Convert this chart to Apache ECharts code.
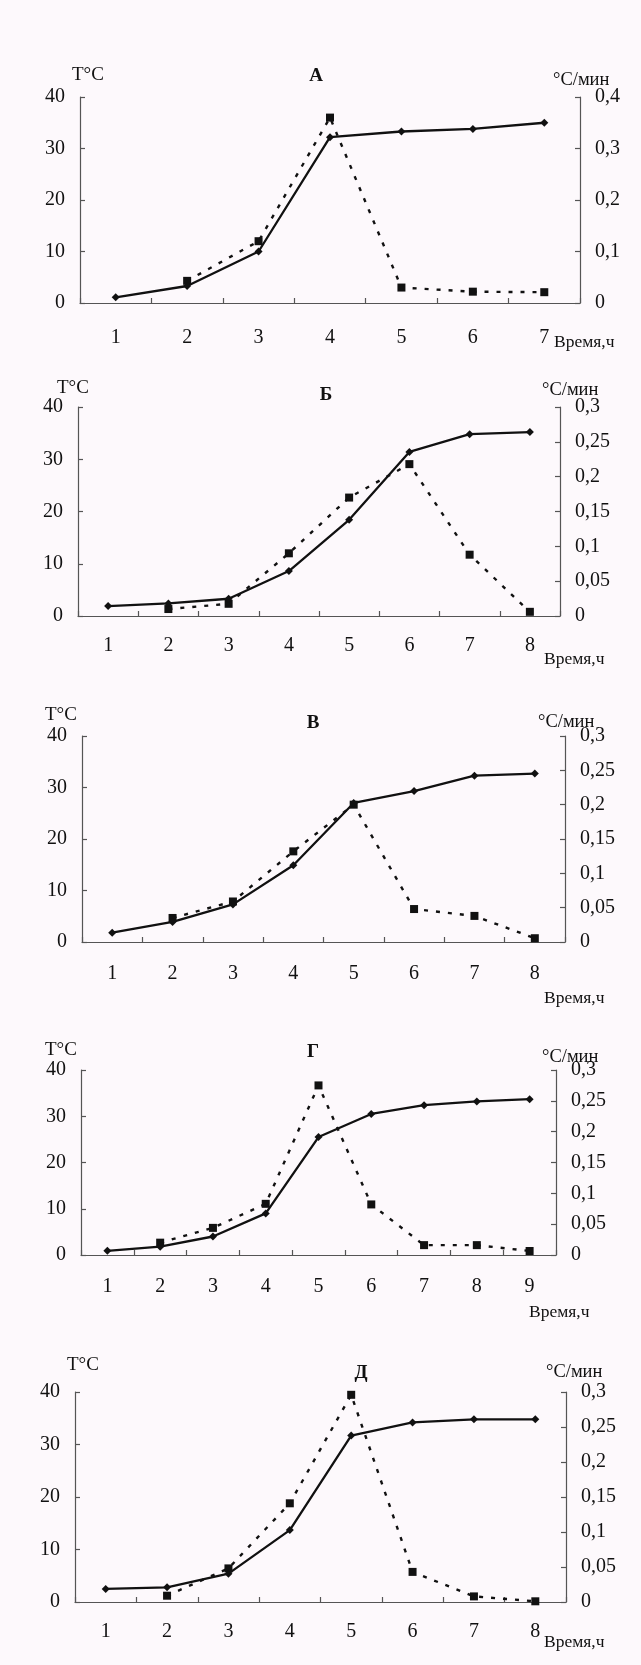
<!DOCTYPE html>
<html><head><meta charset="utf-8">
<script src="https://cdn.jsdelivr.net/npm/echarts@6/dist/echarts.min.js"></script>
<style>html,body{margin:0;padding:0;background:#fdf9fc;}#c{width:641px;height:1665px;}</style>
</head><body><div id="c"></div>
<script>
// ---- data ----
const hoursA = ['1','2','3','4','5','6','7'];
const tempA  = [1.1, 3.3, 10.0, 32.2, 33.3, 33.8, 35.0];
const rateA  = [null, 0.043, 0.12, 0.36, 0.03, 0.022, 0.021];
const notesA = [{x:4.6, y:35.4, t:'1'}, {x:4.99, y:8.4, t:'2'}];

const hoursB = ['1','2','3','4','5','6','7','8'];
const tempB  = [1.9, 2.4, 3.3, 8.6, 18.4, 31.4, 34.8, 35.2];
const rateB  = [null, 0.010, 0.0175, 0.09, 0.17, 0.218, 0.088, 0.006];
const notesB = [{x:1.64, y:4.3, t:'1'}, {x:6.9, y:16.6, t:'2'}];

const hoursV = ['1','2','3','4','5','6','7','8'];
const tempV  = [1.8, 3.9, 7.3, 14.9, 27.0, 29.3, 32.3, 32.7];
const rateV  = [null, 0.035, 0.059, 0.132, 0.2, 0.048, 0.038, 0.0055];
const notesV = [{x:1.24, y:7.0, t:'1'}, {x:5.66, y:17.9, t:'2'}];

const hoursG = ['1','2','3','4','5','6','7','8','9'];
const tempG  = [0.9, 1.8, 4.0, 9.0, 25.5, 30.5, 32.4, 33.2, 33.7];
const rateG  = [null, 0.02, 0.044, 0.083, 0.275, 0.082, 0.016, 0.016, 0.0065];
const notesG = [{x:1.23, y:5.7, t:'1'}, {x:4.71, y:35.4, t:'2'}];

const hoursD = ['1','2','3','4','5','6','7','8'];
const tempD  = [2.5, 2.8, 5.4, 13.7, 31.7, 34.2, 34.8, 34.8];
const rateD  = [null, 0.009, 0.048, 0.141, 0.296, 0.043, 0.008, 0.001];
const notesD = [{x:1.07, y:5.7, t:'1'}, {x:5.83, y:20, t:'2'}];

const titles = ['А','Б','В','Г','Д'];
const leftAxisName = 'T°C';
const rightAxisName = '°C/мин';
const timeName = 'Время,ч';

// ---- layout ----
const FONT = '"Liberation Serif","DejaVu Serif",serif';
const INK = '#111';
const AX = '#555';
const panels = [
  {hours:hoursA, temp:tempA, rate:rateA, notes:notesA, rMax:0.4, rStep:0.1,
   grid:{left:80, top:97, width:500, height:206}, xm:25,
   tT:[72,75], tTitle:[316,76], tR:[553,80], tTime:[554,342]},
  {hours:hoursB, temp:tempB, rate:rateB, notes:notesB, rMax:0.3, rStep:0.05,
   grid:{left:78, top:407, width:482, height:209}, xm:20,
   tT:[57,388], tTitle:[326,395], tR:[542,390], tTime:[544,659]},
  {hours:hoursV, temp:tempV, rate:rateV, notes:notesV, rMax:0.3, rStep:0.05,
   grid:{left:82, top:736, width:483, height:206}, xm:22,
   tT:[45,715], tTitle:[313,723], tR:[538,722], tTime:[544,998]},
  {hours:hoursG, temp:tempG, rate:rateG, notes:notesG, rMax:0.3, rStep:0.05,
   grid:{left:81, top:1070, width:475, height:185}, xm:22,
   tT:[45,1050], tTitle:[313,1052], tR:[542,1057], tTime:[529,1312]},
  {hours:hoursD, temp:tempD, rate:rateD, notes:notesD, rMax:0.3, rStep:0.05,
   grid:{left:75, top:1392, width:491, height:210}, xm:20,
   tT:[67,1365], tTitle:[361,1373], tR:[546,1372], tTime:[544,1642]}
];

const fmtR = v => String(+(+v).toFixed(2)).replace('.', ',');
const grids = [], xAxes = [], yAxes = [], series = [], graphics = [];
panels.forEach((p, i) => {
  grids.push(Object.assign({containLabel:false}, p.grid));
  xAxes.push({gridIndex:i, type:'category', data:p.hours, boundaryGap:true,
    axisLine:{show:true, lineStyle:{color:AX, width:1.2}},
    axisTick:{show:true, inside:true, length:5, lineStyle:{color:AX, width:1.2}},
    axisLabel:{margin:p.xm, fontSize:20, color:INK, fontFamily:FONT},
    splitLine:{show:false}});
  xAxes.push({gridIndex:i, type:'value', min:0.5, max:p.hours.length + 0.5, show:false});
  yAxes.push({gridIndex:i, type:'value', position:'left', min:0, max:40, interval:10,
    axisLine:{show:true, lineStyle:{color:AX, width:1.2}},
    axisTick:{show:true, inside:true, length:5, lineStyle:{color:AX, width:1.2}},
    axisLabel:{margin:15, fontSize:20, color:INK, fontFamily:FONT},
    splitLine:{show:false}});
  yAxes.push({gridIndex:i, type:'value', position:'right', min:0, max:p.rMax, interval:p.rStep,
    axisLine:{show:true, lineStyle:{color:AX, width:1.2}},
    axisTick:{show:true, inside:true, length:5, lineStyle:{color:AX, width:1.2}},
    axisLabel:{margin:15, fontSize:20, color:INK, fontFamily:FONT, formatter:fmtR,
      padding:[8,0,0,0]},
    splitLine:{show:false}});
  series.push({type:'line', xAxisIndex:2*i, yAxisIndex:2*i, data:p.temp,
    symbol:'diamond', symbolSize:8, showSymbol:true, showAllSymbol:true,
    lineStyle:{color:INK, width:2.3}, itemStyle:{color:INK}, z:4});
  series.push({type:'line', xAxisIndex:2*i, yAxisIndex:2*i+1,
    data:p.rate.map(v => v === null ? '-' : v),
    symbol:'rect', symbolSize:8, showSymbol:true, showAllSymbol:true,
    lineStyle:{color:INK, width:2.4, type:[4,8]}, itemStyle:{color:INK}, z:3});
  series.push({type:'scatter', xAxisIndex:2*i+1, yAxisIndex:2*i,
    data:p.notes.map(n => ({value:[n.x, n.y], name:n.t})),
    symbolSize:1, itemStyle:{opacity:0}, silent:true,
    label:{show:true, position:'inside', formatter:'{b}', fontSize:17, fontWeight:'bold',
      color:INK, fontFamily:FONT}});
  const txt = (pos, text, size, weight, align) => graphics.push({type:'text', x:pos[0], y:pos[1],
    style:{text:text, fill:INK, font:(weight||'normal') + ' ' + size + 'px ' + FONT,
      align:align||'left', verticalAlign:'middle'}});
  txt(p.tT, leftAxisName, 19);
  txt(p.tTitle, titles[i], 19, 'bold', 'center');
  txt(p.tR, rightAxisName, 18.5);
  txt(p.tTime, timeName, 17.5);
});

const chart = echarts.init(document.getElementById('c'), null, {renderer:'canvas'});
chart.setOption({
  backgroundColor:'#fdf9fc', animation:false,
  grid:grids, xAxis:xAxes, yAxis:yAxes, series:series, graphic:graphics
});
</script></body></html>
